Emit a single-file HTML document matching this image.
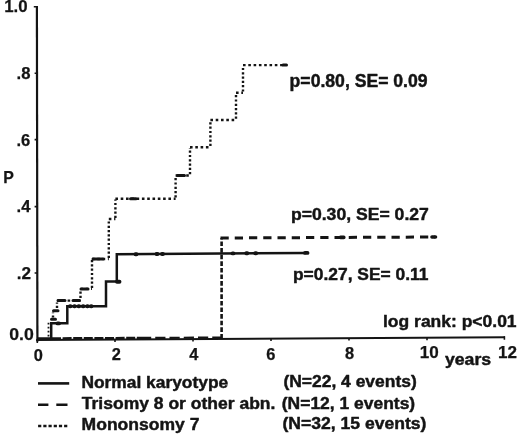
<!DOCTYPE html>
<html lang="en">
<head>
<meta charset="utf-8">
<title>Cumulative incidence by karyotype</title>
<style>
  html, body { margin: 0; padding: 0; background: #ffffff; }
  body { width: 520px; height: 436px; overflow: hidden; }
  svg { display: block; }
  text { font-family: "Liberation Sans", Arial, Helvetica, sans-serif; font-weight: 700; fill: #141414; stroke: #141414; stroke-width: 0.45px; stroke-linejoin: round; }
  .thin text { stroke-width: 0.25px; }
  .ax { stroke: #141414; fill: none; }
  .ln { stroke: #141414; fill: none; stroke-linejoin: miter; }
  .mk { stroke: #141414; fill: none; stroke-linecap: round; }
</style>
</head>
<body>
<svg width="520" height="436" viewBox="0 0 520 436">
  <rect x="0" y="0" width="520" height="436" fill="#ffffff"/>

  <!-- axes -->
  <g class="ax">
    <path d="M36.9 6 L37.4 341.4" stroke-width="2.2"/>
    <path d="M36.2 340 L505 337.3" stroke-width="2"/>
    <!-- y ticks -->
    <path d="M33.8 6.7 H38 M34.6 73.2 H37 M34.6 139.6 H37 M34.6 206.6 H37 M34.6 273 H37" stroke-width="1.6"/>
    <!-- x ticks -->
    <path d="M37.3 340 V343 M115 339.5 V342 M193 339 V341.6 M271 338.6 V341 M349 338.2 V340.6 M427 337.8 V340.2 M504.4 336.3 V339.8" stroke-width="1.6"/>
  </g>

  <!-- y labels -->
  <g class="thin" font-size="17">
    <text x="4.2" y="12.2" textLength="23.4" lengthAdjust="spacingAndGlyphs">1.0</text>
    <text x="16.5" y="78.8" textLength="13.9" lengthAdjust="spacingAndGlyphs">.8</text>
    <text x="16.5" y="145.6" textLength="13.8" lengthAdjust="spacingAndGlyphs">.6</text>
    <text x="3.2" y="183.3" textLength="10.6" lengthAdjust="spacingAndGlyphs">P</text>
    <text x="16.6" y="212.3" textLength="13.9" lengthAdjust="spacingAndGlyphs">.4</text>
    <text x="16.7" y="279.3" textLength="14.3" lengthAdjust="spacingAndGlyphs">.2</text>
    <text x="9.2" y="340" textLength="24.6" lengthAdjust="spacingAndGlyphs">0.0</text>
  </g>

  <!-- x labels -->
  <g class="thin" font-size="16.4" text-anchor="middle">
    <text x="38.3" y="360.6">0</text>
    <text x="116.3" y="360.3">2</text>
    <text x="193.9" y="360">4</text>
    <text x="270.8" y="359.7">6</text>
    <text x="349.6" y="358.9">8</text>
    <text x="429.2" y="358.1" textLength="19" lengthAdjust="spacingAndGlyphs">10</text>
    <text x="507.4" y="357.7" textLength="19" lengthAdjust="spacingAndGlyphs">12</text>
  </g>
  <text x="444.9" y="365.1" font-size="16.4" textLength="46.2" lengthAdjust="spacingAndGlyphs">years</text>

  <!-- dotted curve : Monosomy 7 -->
  <g class="ln" stroke-width="2.4">
    <!-- vertical segments (tight dots) -->
    <path stroke-width="1.8" stroke-dasharray="1.6 2.4" d="M48.5 336.4 V322"/>
    <path stroke-dasharray="2.2 2.1" d="M53 317.6 V312.5 M57 308 V302.5 M80.5 298 V291.5 M92 288 V259.5 M108.8 258 V219.5 M115.4 218 V199.5 M175.6 197.5 V176 M190 174.3 V148 M210.4 146 V120.6 M236 118.8 V93.4 M243 91.6 V65.8"/>
    <!-- horizontal segments (wider dots) -->
    <path stroke-dasharray="2.6 2.7" d="M57 300.6 H80.5 M80.5 288.9 H92 M92 259 H108.8 M108.8 219 H115.4 M115.4 198.7 H175.6 M175.6 175.5 H190 M190 147.3 H210.4 M210.4 120 H236 M236 92.8 H243 M243 65.1 H284"/>
  </g>
  <!-- dotted-curve censor marks -->
  <g class="mk" stroke-width="3">
    <path d="M51.5 319.3 H55.5 M53.5 310.7 H58 M58 300.6 H65 M73 300.4 H79.5 M81 289 H88 M93 259 H103 M130.5 198.7 H136 M177.5 175.5 H184.5 M283 65.1 H286.5"/>
  </g>

  <!-- dashed curve : Trisomy 8 or other abn. -->
  <g class="ln" stroke-width="3">
    <path stroke-dasharray="9 1.6" d="M52 338.3 L141 337.9" stroke-width="2.2"/>
    <path stroke-dasharray="10.2 4.05" d="M141 337.9 L221.5 337.6" stroke-width="2.2"/>
    <path stroke-dasharray="4.6 2" d="M221.6 338.5 V238" stroke-width="2.6"/>
    <path stroke-dasharray="8.25 6" d="M220.5 238 L435 237"/>
  </g>
  <g class="mk" stroke-width="3.6">
    <path d="M340.5 237.4 H343.8 M432 237 H435.5"/>
  </g>

  <!-- solid curve : Normal karyotype -->
  <g class="ln" stroke-width="2.5">
    <path d="M38 338.6 H51.2 V323.2 H67.3 V306.2 H106 V281.6 H116.8 V254.3 L306 252.9"/>
  </g>
  <g class="mk" stroke-width="3.9">
    <path d="M57.5 323.4 H59 M70 306.3 H70.5 M74.3 306.3 H74.8 M78.6 306.3 H79.1 M82.9 306.3 H83.4 M87.2 306.3 H87.7 M91 306.3 H91.5 M117 281.8 H119.5 M135.5 254.2 H136.5 M156.5 254 H157.5 M162 254 H163 M232.5 253.4 H233.5 M246.3 253.3 H247.3 M255.2 253.2 H256.2 M305 252.9 H307.5"/>
  </g>

  <!-- curve annotations -->
  <g font-size="17.1">
    <text x="289.6" y="86.8" font-size="17.6" textLength="138" lengthAdjust="spacingAndGlyphs">p=0.80, SE= 0.09</text>
    <text x="290.9" y="220" textLength="138" lengthAdjust="spacingAndGlyphs">p=0.30, SE= 0.27</text>
    <text x="293" y="280.2" textLength="135.4" lengthAdjust="spacingAndGlyphs">p=0.27, SE= 0.11</text>
    <text x="383" y="327" font-size="17.3" textLength="133.6" lengthAdjust="spacingAndGlyphs">log rank: p&lt;0.01</text>
  </g>

  <!-- legend -->
  <g class="ln" stroke-width="2.6">
    <path d="M38 383.4 H69.2"/>
    <path d="M38 404.7 H48.4 M56.3 404.7 H67.5"/>
    <path stroke-dasharray="3.2 2" d="M38.1 426 H67.5"/>
  </g>
  <g font-size="16.7">
    <text x="81.4" y="388.2" textLength="146.8" lengthAdjust="spacingAndGlyphs">Normal karyotype</text>
    <text x="81.8" y="409.2" textLength="193.6" lengthAdjust="spacingAndGlyphs">Trisomy 8 or other abn.</text>
    <text x="81.6" y="429.6" textLength="117.8" lengthAdjust="spacingAndGlyphs">Mononsomy 7</text>
    <text x="283.4" y="387.4" textLength="133.4" lengthAdjust="spacingAndGlyphs">(N=22, 4 events)</text>
    <text x="281.8" y="408.6" textLength="133.4" lengthAdjust="spacingAndGlyphs">(N=12, 1 events)</text>
    <text x="282.4" y="428.8" textLength="144" lengthAdjust="spacingAndGlyphs">(N=32, 15 events)</text>
  </g>
</svg>
</body>
</html>
